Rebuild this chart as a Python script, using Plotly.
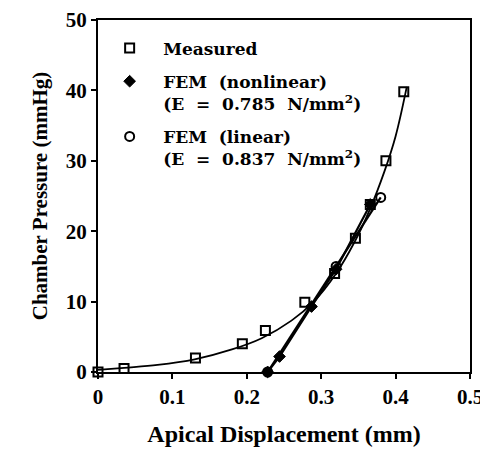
import plotly.graph_objects as go

# Measured data (squares)
meas_x = [0.0, 0.035, 0.131, 0.194, 0.225, 0.278, 0.318, 0.346, 0.366, 0.387, 0.411]
meas_y = [0.0, 0.5, 2.0, 4.0, 5.9, 9.9, 14.0, 19.0, 23.8, 30.0, 39.8]

fit_x = [0.0, 0.035, 0.08, 0.13, 0.18, 0.22, 0.26, 0.29, 0.32, 0.345, 0.365, 0.385, 0.40, 0.415]
fit_y = [0.3, 0.6, 1.0, 1.8, 3.2, 4.8, 7.3, 10.0, 14.0, 18.5, 23.0, 28.5, 33.5, 40.5]

# FEM nonlinear (diamonds)
fnl_x = [0.228, 0.244, 0.287, 0.320, 0.366]
fnl_y = [0.0, 2.2, 9.3, 14.6, 23.8]

# FEM linear (circles)
fl_x = [0.228, 0.320, 0.380]
fl_y = [0.0, 15.0, 24.8]

x_ticks = [0, 0.1, 0.2, 0.3, 0.4, 0.5]
x_ticklabels = ["0", "0.1", "0.2", "0.3", "0.4", "0.5"]
y_ticks = [0, 10, 20, 30, 40, 50]

FONT = "Liberation Serif"
LEGFONT = "DejaVu Serif"

fig = go.Figure()

fig.add_trace(go.Scatter(x=fit_x, y=fit_y, mode="lines", line=dict(color="black", width=1.8, shape="spline"),
                         showlegend=False, hoverinfo="skip"))
fig.add_trace(go.Scatter(x=fnl_x, y=fnl_y, mode="lines", line=dict(color="black", width=2.2),
                         showlegend=False, hoverinfo="skip"))
fig.add_trace(go.Scatter(x=fl_x, y=fl_y, mode="lines", line=dict(color="black", width=2.2),
                         showlegend=False, hoverinfo="skip"))

fig.add_trace(go.Scatter(x=meas_x, y=meas_y, mode="markers", name="Measured", legendgroup="a",
                         marker=dict(symbol="square-open", size=9, color="black", line=dict(width=2))))
fig.add_trace(go.Scatter(x=fnl_x, y=fnl_y, mode="markers", legendgroup="b",
                         name="FEM  (nonlinear)<br>(E  =  0.785  N/mm<sup>2</sup>)",
                         marker=dict(symbol="diamond", size=9, color="black", line=dict(width=1, color="black"))))
fig.add_trace(go.Scatter(x=fl_x, y=fl_y, mode="markers", legendgroup="c",
                         name="FEM  (linear)<br>(E  =  0.837  N/mm<sup>2</sup>)",
                         marker=dict(symbol="circle-open", size=9, color="black", line=dict(width=2))))

fig.update_layout(
    width=488, height=449,
    margin=dict(l=90, r=26, t=12, b=85),
    paper_bgcolor="white", plot_bgcolor="white",
    font=dict(family=FONT, color="black"),
    showlegend=True,
    legend=dict(x=-0.005, y=0.97, xanchor="left", yanchor="top", valign="top",
                font=dict(family=LEGFONT, size=17, color="black", weight="bold"),
                bgcolor="rgba(0,0,0,0)", tracegroupgap=8, itemwidth=57),
    xaxis=dict(range=[0, 0.5], tickvals=x_ticks, ticktext=x_ticklabels, automargin=False,
               showgrid=False, zeroline=False, showline=True, linecolor="black", linewidth=2,
               mirror=True, ticks="outside", ticklen=5, tickwidth=2, tickcolor="black",
               tickfont=dict(family=FONT, size=21, color="black", weight="bold"),
               title=dict(text="Apical Displacement (mm)",
                          font=dict(family=FONT, size=24, color="black", weight="bold"),
                          standoff=17)),
    yaxis=dict(range=[0, 50], tickvals=y_ticks, automargin=False,
               showgrid=False, zeroline=False, showline=True, linecolor="black", linewidth=2,
               mirror=True, ticks="outside", ticklen=5, tickwidth=2, tickcolor="black",
               tickfont=dict(family=FONT, size=21, color="black", weight="bold"),
               title=dict(text="Chamber Pressure (mmHg)",
                          font=dict(family=FONT, size=21, color="black", weight="bold"),
                          standoff=12)),
)
fig.update_traces(cliponaxis=False)

fig.write_html("out.html")
